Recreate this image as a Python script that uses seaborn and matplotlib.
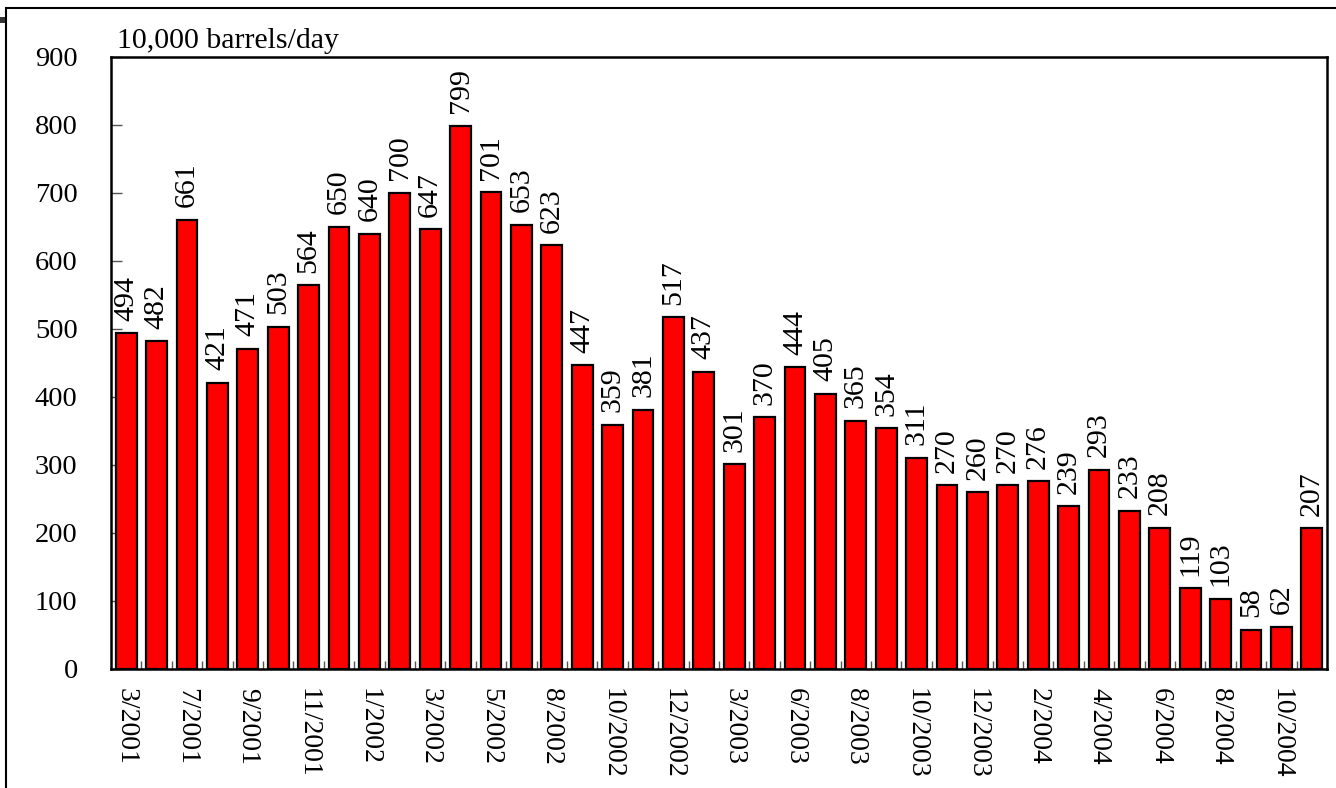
import numpy as np
import pandas as pd
import matplotlib
matplotlib.use("Agg")
import matplotlib.pyplot as plt
from matplotlib.patches import Rectangle
from matplotlib.ticker import FixedLocator
import seaborn as sns

# Monthly volumes, 10,000 barrels/day
values = [494, 482, 661, 421, 471, 503, 564, 650, 640, 700,
          647, 799, 701, 653, 623, 447, 359, 381, 517, 437,
          301, 370, 444, 405, 365, 354, 311, 270, 260, 270,
          276, 239, 293, 233, 208, 119, 103, 58, 62, 207]

# Period labels shown under every other bar
period_labels = ["3/2001", "7/2001", "9/2001", "11/2001", "1/2002",
                 "3/2002", "5/2002", "8/2002", "10/2002", "12/2002",
                 "3/2003", "6/2003", "8/2003", "10/2003", "12/2003",
                 "2/2004", "4/2004", "6/2004", "8/2004", "10/2004"]

unit_label = "10,000 barrels/day"
y_ticks = [0, 100, 200, 300, 400, 500, 600, 700, 800, 900]

sns.set_theme(style="white")
plt.rcParams["font.family"] = ["Liberation Serif", "DejaVu Serif"]
plt.rcParams["text.color"] = "black"
plt.rcParams["xtick.labelcolor"] = "black"
plt.rcParams["ytick.labelcolor"] = "black"

df = pd.DataFrame({"idx": np.arange(len(values)), "value": values})

fig = plt.figure(figsize=(13.36, 7.88), dpi=100)
ax = fig.add_axes([111 / 1336, 1 - 669 / 788, (1327 - 111) / 1336, (669 - 57) / 788])

sns.barplot(data=df, x="idx", y="value", ax=ax, color="#FF0000",
            saturation=1, width=0.69, edgecolor="black", linewidth=1.6)

ax.set_xlim(-0.5, len(values) - 0.5)
ax.set_ylim(0, 900)
ax.set_xlabel("")
ax.set_ylabel("")

# value labels above each bar
for cont in ax.containers:
    ax.bar_label(cont, labels=[str(v) for v in values], rotation=90,
                 fontsize=21.5, padding=9, color="black")

# y axis
ax.set_yticks(y_ticks)
ax.set_yticklabels([str(t) for t in y_ticks], fontsize=20.5)
ax.tick_params(axis="y", direction="in", length=8, width=1.0,
               color="#555555", pad=24, left=True)

# x axis: labels under every other bar, small ticks between bars
ax.set_xticks(np.arange(0, len(values), 2))
ax.set_xticklabels(period_labels, rotation=270, fontsize=20)
ax.tick_params(axis="x", which="major", length=0, pad=14)
ax.xaxis.set_minor_locator(FixedLocator(np.arange(0.5, len(values) - 1, 1)))
ax.tick_params(axis="x", which="minor", direction="in", length=6,
               width=1.0, color="#555555", bottom=True)

for side in ["left", "right", "top", "bottom"]:
    ax.spines[side].set_visible(True)
    ax.spines[side].set_color("black")
    ax.spines[side].set_linewidth(1.8)

ax.text(0.005, 1.005, unit_label, transform=ax.transAxes,
        fontsize=21.5, ha="left", va="bottom", color="black")

# outer frame and corner mark
fig.patches.append(Rectangle((6 / 1336, -0.1), 1.2, 1 - 8 / 788 + 0.1,
                             transform=fig.transFigure, fill=False,
                             edgecolor="black", linewidth=1.5))
fig.patches.append(Rectangle((0, 1 - 23 / 788), 5 / 1336, 6 / 788,
                             transform=fig.transFigure, facecolor="#333333",
                             edgecolor="none"))

fig.savefig("out.png", dpi=100)
